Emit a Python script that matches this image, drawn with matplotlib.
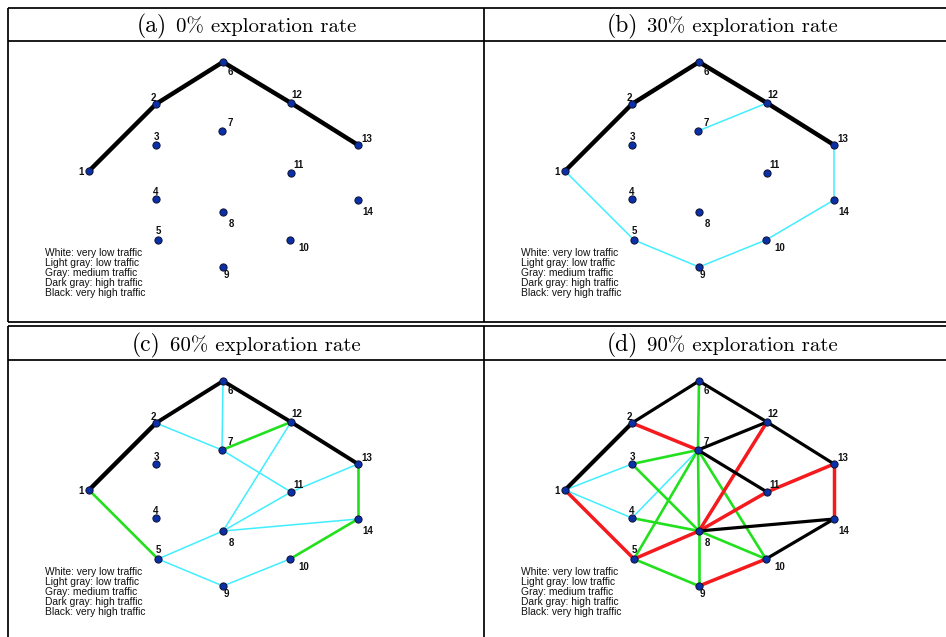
import matplotlib
matplotlib.use("Agg")
import matplotlib.pyplot as plt

# ---------------- data ----------------
node_ids = [1, 2, 3, 4, 5, 6, 7, 8, 9, 10, 11, 12, 13, 14]
node_x = [89, 156, 156, 156, 158, 223, 222, 223, 223, 290, 291, 291, 358, 358]
node_y = [171, 104, 145, 199, 240, 62, 131, 212, 267, 240, 173, 103, 145, 200]

panel_letters = ["(a)", "(b)", "(c)", "(d)"]
panel_titles = ["0% exploration rate", "30% exploration rate",
                "60% exploration rate", "90% exploration rate"]

legend_lines = ["White: very low traffic", "Light gray: low traffic",
                "Gray: medium traffic", "Dark gray: high traffic",
                "Black: very high traffic"]

# edges per panel: (from, to, class)
edges_a = [(1, 2, "black_thick"), (2, 6, "black_thick"), (6, 12, "black_thick"),
           (12, 13, "black_thick")]
edges_b = [(1, 2, "black_thick"), (2, 6, "black_thick"), (6, 12, "black_thick"),
           (12, 13, "black_thick"),
           (12, 7, "cyan"), (13, 14, "cyan"), (14, 10, "cyan"), (10, 9, "cyan"),
           (9, 5, "cyan"), (5, 1, "cyan")]
edges_c = [(6, 7, "cyan"), (2, 7, "cyan"), (7, 11, "cyan"), (11, 13, "cyan"),
           (12, 8, "cyan"), (11, 8, "cyan"), (8, 14, "cyan"), (8, 5, "cyan"),
           (5, 9, "cyan"), (9, 10, "cyan"),
           (7, 12, "green"), (13, 14, "green"), (14, 10, "green"), (1, 5, "green"),
           (1, 2, "black_thick"), (2, 6, "black_mid"), (6, 12, "black_mid"),
           (12, 13, "black_mid")]
edges_d = [(1, 3, "cyan"), (1, 4, "cyan"), (4, 7, "cyan"),
           (6, 7, "green"), (7, 8, "green"), (8, 9, "green"), (7, 3, "green"),
           (3, 8, "green"), (7, 5, "green"), (7, 10, "green"), (4, 8, "green"),
           (5, 9, "green"), (8, 10, "green"),
           (2, 7, "red"), (12, 8, "red"), (11, 8, "red"), (11, 13, "red"),
           (13, 14, "red"), (1, 5, "red"), (5, 8, "red"), (9, 10, "red"),
           (1, 2, "black_d1"), (2, 6, "black_d"), (6, 12, "black_d"),
           (12, 13, "black_d"), (7, 12, "black_d"), (7, 11, "black_d"),
           (8, 14, "black_d"), (14, 10, "black_d")]
panel_edges = [edges_a, edges_b, edges_c, edges_d]

# ---------------- styles ----------------
edge_style = {
    "cyan": dict(color="#40EEFF", lw=1.1),
    "green": dict(color="#22E01E", lw=1.9),
    "red": dict(color="#F41A1E", lw=2.5),
    "black_thick": dict(color="black", lw=3.2),
    "black_mid": dict(color="black", lw=2.8),
    "black_d1": dict(color="black", lw=3.0),
    "black_d": dict(color="black", lw=2.3),
}
# label offsets in pixels (dx, dy; dy positive = down)
label_off = {1: (-7.5, 1), 2: (-3, -6), 3: (0, -7.5), 4: (0, -7), 5: (0, -9),
             6: (7, 10), 7: (8, -8), 8: (8, 11.5), 9: (3, 8), 10: (13.5, 8),
             11: (7.5, -7.5), 12: (6, -8), 13: (9, -6), 14: (10, 11.7)}

W, H = 946, 637
fig = plt.figure(figsize=(W / 100, H / 100), dpi=100)
fig.patch.set_facecolor("white")

bg = fig.add_axes([0, 0, 1, 1])
bg.set_xlim(0, W)
bg.set_ylim(H, 0)
bg.axis("off")

# table borders
LX, MX = 8.3, 483.5
TOP, HDR1, D1, D2, HDR2 = 7.5, 41.3, 321.7, 326.3, 360.0
blw = 1.25
for yy in [TOP, HDR1, D1, D2, HDR2]:
    bg.plot([LX - 0.6, W], [yy, yy], color="black", lw=blw, solid_capstyle="butt")
for xx in [LX, MX]:
    bg.plot([xx, xx], [TOP, D1], color="black", lw=blw, solid_capstyle="butt")
    bg.plot([xx, xx], [D2, H], color="black", lw=blw, solid_capstyle="butt")

PW, RH = 476, 319
renderer = fig.canvas.get_renderer()

for k in range(4):
    col, row = k % 2, k // 2
    ox, oy = col * PW, row * RH

    # title
    cx = LX + ox + PW / 2
    base = 32.0 + oy
    t1 = bg.text(0, base, panel_letters[k], family="cmr10", fontsize=17,
                 va="baseline", ha="left")
    t2 = bg.text(0, base, panel_titles[k], family="cmr10", fontsize=15,
                 va="baseline", ha="left")
    w1 = t1.get_window_extent(renderer).width
    w2 = t2.get_window_extent(renderer).width
    gap = 9
    total = w1 + gap + w2
    x0 = cx - total / 2
    t1.set_x(x0)
    t2.set_x(x0 + w1 + gap)

    # graph
    ax = fig.add_axes([(LX + ox) / W, 1 - (D1 + oy) / H, PW / W, (D1 - HDR1) / H])
    ax.set_xlim(LX, LX + PW)
    ax.set_ylim(D1, HDR1)
    ax.axis("off")
    ax.patch.set_alpha(0)

    for (a, b, cls) in panel_edges[k]:
        ia, ib = node_ids.index(a), node_ids.index(b)
        st = edge_style[cls]
        ax.plot([node_x[ia], node_x[ib]], [node_y[ia], node_y[ib]],
                color=st["color"], lw=st["lw"], solid_capstyle="butt",
                zorder=3 if cls.startswith("black") else 2, clip_on=False)

    ax.plot(node_x, node_y, linestyle="none", marker="o", markersize=5.2,
            markerfacecolor="#0A30A8", markeredgecolor="#101030",
            markeredgewidth=0.7, zorder=5, clip_on=False)

    for i, n in enumerate(node_ids):
        dx, dy = label_off[n]
        ax.annotate(str(n), (node_x[i], node_y[i]),
                    xytext=(dx * 0.72, -dy * 0.72), textcoords="offset points",
                    ha="center", va="center", fontsize=7, fontweight="bold",
                    family="Liberation Sans", color="#111111", zorder=6,
                    annotation_clip=False)

    for j, line in enumerate(legend_lines):
        ax.text(45 + ox * 0, 253 + 10 * j, line, fontsize=7.4,
                family="Liberation Sans", va="center", ha="left",
                color="#111111")

fig.savefig("out.png", dpi=100)
